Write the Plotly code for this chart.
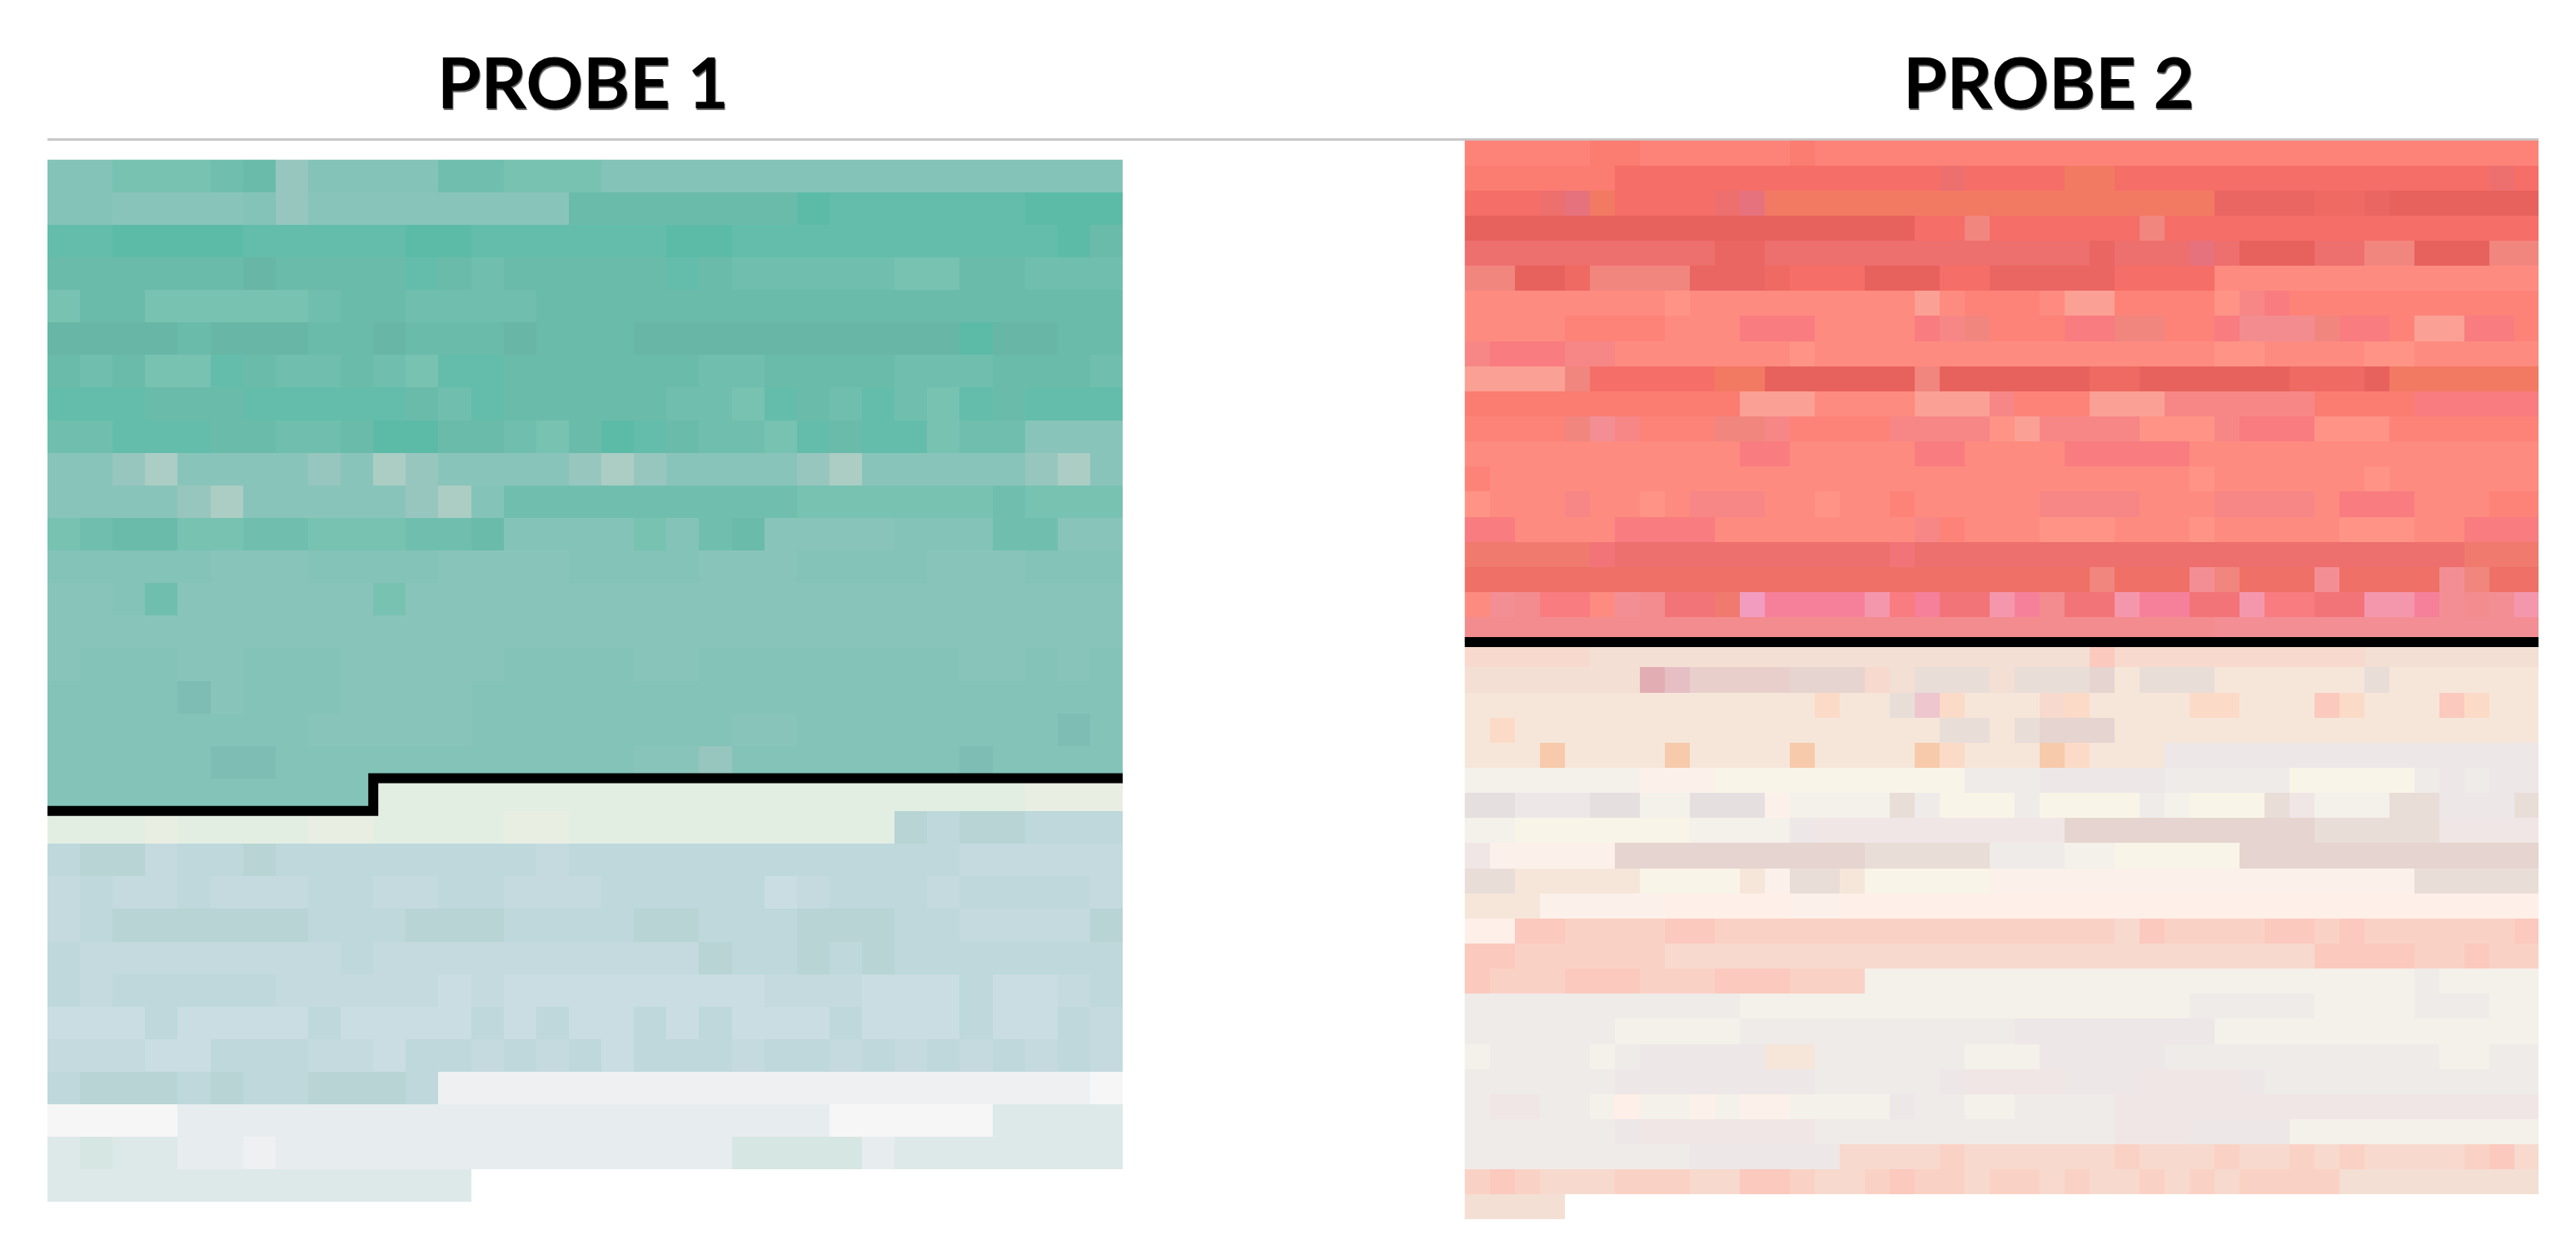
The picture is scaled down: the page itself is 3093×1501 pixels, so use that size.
"""Two probe maps: one cell per spot, a black step line marks the boundary."""

import plotly.graph_objects as go

WIDTH = 3093
HEIGHT = 1501

TITLES = ["PROBE 1", "PROBE 2"]

# one character per cell; the key is in the palette below
PROBE_1_ROWS = [
    "FFEEEDCHFF FFDDEEEFFF FFFFFFFFFF FFF",
    "FFGGGGFHGG GGGGGGCCCC CCCABBBBBB AAA",
    "BBAAAABBBB BAABBBBBBA ABBBBBBBBB BAC",
    "CCCCCCcCCC CBCDCCCCCB CDDDDDEECC DDD",
    "ECCEEEEEDC CDDDDCCCCC CCCCCCCCCC CCC",
    "ccccCcccCC cCCCcCCCcc ccccccccAc cCC",
    "CDCEEBCDDC DEBBCCCCCC DDCCCCDDDC CCD",
    "BBBCCCBBBB BCDBCCCCCD DEBCDBDEBC BBB",
    "DDBBBCCDDC AACCDECABC DDEBCBBEDD GGG",
    "GGHIGGGGHG IHGGGGHIHG GGGHIGGGGG HIG",
    "GGGGHIGGGG GHIFDDDDDD DDDEEEEEED EEE",
    "EDCCEEDDEE EDDCFFFFEF DCGGGGFFFD DGG",
    "FFFFFGGGFF FFGGGGFFFF GGGFFFFGGG FFF",
    "GGFDGGGGGG EGGGGGGGGG GGGGGGGGGG GGG",
    "GGGGGGGGGG GGGGGGGGGG GGGGGGGGGG GGG",
    "GFFFGGFFFG GGGGFFFFGG FFFFFFFFGG FGF",
    "FFFFsGFFFG GGGFFFFFFF FFFFFFFFFF FFF",
    "FFFFFFFFGG GGGFFFFFFF FGGFFFFFFF FsF",
    "FFFFFssFFF FFFFFFFFGG HFFFFFFFsF FFF",
    "FFFFFFFFFF JJJJJJJJJJ JJJJJJJJJJ KKK",
    "JJJKJJJJKK JJJJKKJJJJ JJJJJJLMLL MMM",
    "MLLNMMLMMM MMMMMNMMMM MMMMMMMMNN NNN",
    "NMNNMNNNMM NNMMNNNMMM MMONMMMNMM MMN",
    "NMLLLLLLMM MLLLMMMMLL MMMLLLMMNN NNL",
    "MNNNNNNNNM NNNNNNNNNN LMMLMLMMMM MMM",
    "MNMMMMMNNN NNONOOOOOO OONNNOOOMO ONM",
    "OOOMOOOOMO OOOMOMOOMO MOOOMOOOMO OMN",
    "NNNOOMMMNN OMMNMNMOMM MNMMNMNMNM NMN",
    "MLLLMLMMLL LMQQQQQQQQ QQQQQQQQQQ QQR",
    "RRRRSSSSSS SSSSSSSSSS SSSSRRRRRT TTT",
    "TUTTSSQSSS SSSSSSSSSS SUUUUSTTTT TTT",
    "TTTTTTTTTT TTT",
]

PROBE_2_ROWS = [
    "EEEEEDDEEE EEEDEEEEEE EEEEEEEEEE EEEEEEEEEE EEE",
    "DDDDDDCCCC CCCCCCCCCJ CCCCeeCCCC CCCCCCCCCC CJC",
    "CCCJqeCCCC Jqeeeeeeee eeeeeeeeee nnnnBBnAAA AAA",
    "AAAAAAAAAA AAAAAAAACC KCCCCCCKCC CCCCCCCCCC CCC",
    "JJJJJJJJJJ nnJJJJJJJJ JJJJJnJJJq JAAAJJKKAA AKK",
    "KKAABKKKKn nnBCCCAAAC CnnnnnCCCC FFFFFFFFFF FFF",
    "FFFFFFFFGF FFFFFFFFHF EEEFHHEEEE GprEEEEEEE EEE",
    "FFFFEEEEFF FrrrFFFFrp KEEErrKKEE rlllKrrEHH rrE",
    "prrrppFFFF FFFGFFFFFF FFFFFFFFFF GGFFFFGGFF FFF",
    "HHHHKCCCCC eeAAAAAAKA AAAAABBAAA AAABBBAeee eee",
    "DDDDDDDDDD DHHHFFFFHH HpEEEHHHpp ppppDDDDrr rrr",
    "EEEEKLpEEE KKpEEEEppp pGHppppGGG prrrGGGEEE EEE",
    "FFFFFFFFFF FrrFFFFFrr FFFFrrrrrF FFFFFFFFFF FFF",
    "EFFFFFFFFF FFFFFFFFFF FFFFFFFFFG FFFFFFGFFF FFF",
    "GFFFpFFGFp ppFFGFFEFF FFFppppFFF ppppFrrrFF FEE",
    "rrFFFFrrrr FFFFFFFFpE FFFGGGFFFG FFFFFGGGFF rrr",
    "tttttkJJJJ JJJJJJJkJJ JJJJJJJJJJ JJJJJJJJJJ ttt",
    "mmmmmmmmmm mmmmmmmmmm mmmmmKmmmL KmmmLmmmmL Kmm",
    "FLlrrFLlkk tijjjjIrjk kIjlkkIjjk kIrrkkIIjL lLI",
    "llllllllll llllllllll llllllllll LLLLLLLLLL LLL",
    "YYYYYMMMMM MMMMMMMMMM MMMMMdYYYY YYYYYYMMMM MMM",
    "MMMMMMMOoN NNNUUUYMuu uMuuuUQuuu QQQQQQuQQQ QQQ",
    "QQQQQQQQQQ QQQQPQQuhP QQQYPQQQQP PQQQdPQQQd PQQ",
    "QPQQQQQQQQ QQQQQQQQQu uQuUUUQQQQ QQQQQQQQQQ QQQ",
    "QQQRQQQQRQ QQQRQQQQRP QQQRPQQQSS SSSSSSSSSS SSS",
    "ZZZZZZZVVV TTTTTTTTTT aaaSSSSSaa aaaTTTTTaS aSS",
    "ggSSSggZZg ggVZZZZuaT TTaTTTTaZT TTubZZZuuS SSu",
    "ZZTTTTTTTZ ZZZSbbbbbb bbbbUUUUUU UUUUuuuuub bbb",
    "bVVVVVUUUU UUUUUUuuuu uaaaZZTTTT TUUUUUUUUU UUU",
    "uuQQQQQTTT TQVuuQTTTT TVVVVVVVVV VVVVVVVVuu uuu",
    "QQQVVVVVWW WWWVVWWWWW WWWWWWWWWW WWWWWWWWWW WWW",
    "WWddXXXXdd XXXXXXXXXX XXXXXXYdXX XXddXdXXXX XXd",
    "ddXXXXXXYY YYYYYYYYYY YYYYYYYYYY YYYYddddXX dXX",
    "dXXXdddXXX dddXXXZZZZ ZZZZZZZZZZ ZZZZZZZZaZ ZZZ",
    "aaaaaaaaaa aZZZZZZZZZ ZZZZZZZZZa aaaaZZZZaa aZZ",
    "aaaaaaZZZZ Zaaaaaaaaa aaSSSSSSSS ZZZZZZZZZZ ZZZ",
    "ZaaaaZaSSS SSQQaaaaaa ZZZSSSSSaa aaaaaaaaaZ Zaa",
    "aaaaaaSSSS SSSSaaaaaS bbbbSSSbbb bSaaaaaaaa aaa",
    "abbaaZWZZV ZVVZZZZSaa ZZaaaabbbb bbbbbbbbbb bbb",
    "aaaaaaSbbb bbbbaaaaaa aaaaaabbbS SSSZZZZZZZ ZZZ",
    "aaaaaaaaaS SSSSSYYYYX YYYYYYXYYY XYYXYXYYYY XdY",
    "XdXYYYXXXY YddXYYXdXX YXXYXYYXYX YXXXXMMMMM MMM",
    "MMMM",
]

# where the black boundary runs, in cell coordinates
PROBE_1_LINE_X = [-0.5, 9.5, 9.5, 32.5]
PROBE_1_LINE_Y = [19.5, 19.5, 18.5, 18.5]
PROBE_2_LINE_X = [-0.5, 42.5]
PROBE_2_LINE_Y = [19.5, 19.5]

PALETTE_1 = {
    "A": "#5CBBA7", "B": "#63BDAA", "C": "#6BBBAA", "c": "#68B6A5", "D": "#70BFAE",
    "E": "#78C2B2", "F": "#84C3B7", "G": "#89C4BA", "H": "#97C6BE", "I": "#ABCDC4",
    "s": "#7DBDB3", "J": "#E3EEE3", "K": "#E9EEE3", "L": "#B8D4D4", "M": "#BED8DB",
    "N": "#C4DADF", "O": "#C9DDE2", "Q": "#EEF0F2", "R": "#F6F6F6", "S": "#E7EDEF",
    "T": "#DDE9E8", "U": "#D6E6E2",
}

PALETTE_2 = {
    "A": "#E7625D", "B": "#EE6A63", "C": "#F56E67", "D": "#FB7C71", "E": "#FD8379",
    "F": "#FE8B80", "G": "#FF9486", "H": "#FBA094", "I": "#F597AC", "i": "#F29CC0",
    "J": "#ED6F6E", "j": "#F6809A", "K": "#F1867F", "k": "#F27478", "L": "#F38F94",
    "l": "#F38C8E", "e": "#F27A62", "n": "#EA6663", "p": "#F68786", "r": "#F87C80",
    "q": "#E6727D", "t": "#F07A6E", "m": "#EE7066",
    "M": "#F3DFD4", "Y": "#F7D9CE", "X": "#FAD2C5", "Q": "#F6E6DA", "d": "#FBC9BE",
    "R": "#F6CAAB", "P": "#FBDBC7", "O": "#E2AEB3", "o": "#E6BFC4", "h": "#EEC6CE",
    "N": "#E8CFCC", "U": "#E5D4CF", "u": "#E9DDD8", "S": "#EDE7E7", "a": "#EFEBE9",
    "Z": "#F4F0EA", "T": "#F9F4E8", "V": "#FBF1EA", "W": "#FEEFE8", "b": "#F0E6E5",
    "g": "#E5DFE0",
}

GRID_LINE = "#C8C8C8"
BLACK = "#000000"
FONT_FAMILY = "Lato, 'Open Sans', sans-serif"


def _cells(rows, palette, n_cols):
    """Turn the character rows into index rows for the heatmap; empty cells stay None."""
    keys = list(palette)
    z = []
    bad = []
    for i, row in enumerate(rows):
        row = row.replace(" ", "")
        if len(row) != n_cols and i != len(rows) - 1:
            bad.append((i, len(row)))
        z.append([keys.index(c) for c in row] + [None] * (n_cols - len(row)))
    if bad:
        raise ValueError(f"rows of the wrong length: {bad}")
    return z


def _colorscale(palette):
    n = len(palette) - 1
    return [[i / n, color] for i, color in enumerate(palette.values())]


def _px_x(x):
    return x / WIDTH


def _px_y(y):
    return 1 - y / HEIGHT


fig = go.Figure()

panels = [
    (PROBE_1_ROWS, PALETTE_1, 33, PROBE_1_LINE_X, PROBE_1_LINE_Y, "x", "y"),
    (PROBE_2_ROWS, PALETTE_2, 43, PROBE_2_LINE_X, PROBE_2_LINE_Y, "x2", "y2"),
]
for rows, palette, n_cols, line_x, line_y, xa, ya in panels:
    fig.add_trace(
        go.Heatmap(
            z=_cells(rows, palette, n_cols),
            colorscale=_colorscale(palette),
            zmin=0, zmax=len(palette) - 1,
            showscale=False, hoverongaps=False,
            xaxis=xa, yaxis=ya,
        )
    )
    fig.add_trace(
        go.Scatter(
            x=line_x, y=line_y, mode="lines",
            line=dict(color=BLACK, width=12),
            showlegend=False, hoverinfo="skip",
            xaxis=xa, yaxis=ya,
        )
    )

hidden = dict(visible=False, showgrid=False, zeroline=False, fixedrange=True)
fig.update_layout(
    width=WIDTH, height=HEIGHT,
    autosize=False,
    paper_bgcolor="#FFFFFF", plot_bgcolor="#FFFFFF",
    margin=dict(l=0, r=0, t=0, b=0),
    font=dict(family=FONT_FAMILY, color=BLACK),
    xaxis=dict(hidden, domain=[_px_x(57), _px_x(1348)], range=[-0.5, 32.5]),
    yaxis=dict(hidden, domain=[_px_y(1443), _px_y(191.5)], range=[31.5, -0.5]),
    xaxis2=dict(hidden, domain=[_px_x(1758.5), _px_x(3048)], range=[-0.5, 42.5]),
    yaxis2=dict(hidden, domain=[_px_y(1464), _px_y(168.5)], range=[42.5, -0.5]),
    shapes=[
        dict(
            type="line", xref="paper", yref="paper", layer="below",
            x0=_px_x(57), x1=_px_x(3048), y0=_px_y(167.5), y1=_px_y(167.5),
            line=dict(color=GRID_LINE, width=3),
        )
    ],
    annotations=[
        dict(
            text=f"<b>{title}</b>", xref="paper", yref="paper",
            x=_px_x(cx), y=_px_y(97), xanchor="center", yanchor="middle",
            showarrow=False,
            font=dict(size=85, color=BLACK, family=FONT_FAMILY, shadow="1px 2px 1px #555555"),
        )
        for title, cx in zip(TITLES, [700, 2460])
    ],
)

fig.write_html(
    "out.html",
    config={"displayModeBar": False},
    post_script="document.body.style.margin = '0';",
)
